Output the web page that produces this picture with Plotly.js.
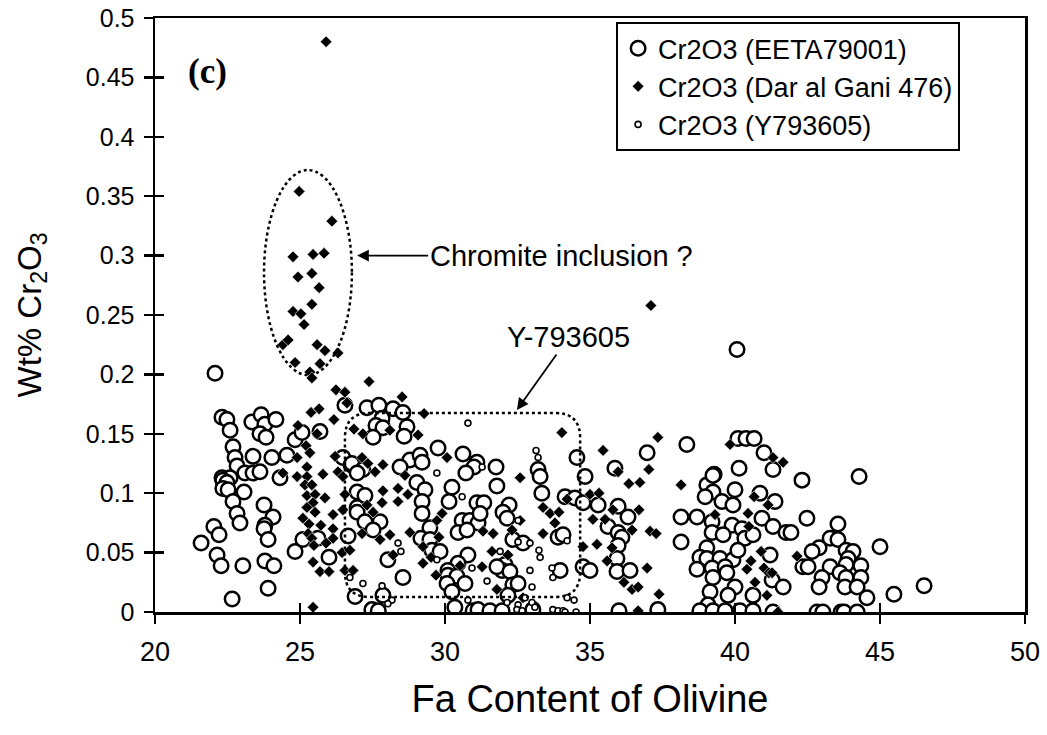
<!DOCTYPE html>
<html><head><meta charset="utf-8">
<script src="https://cdn.plot.ly/plotly-3.0.1.min.js"></script>
<style>html,body{margin:0;padding:0;background:#fff}#chart{width:1047px;height:735px}</style>
</head><body><div id="chart"></div>
<script>
// EETA79001 (large open circles)
const eetaX = [22.31,22.48,22.59,23.34,23.66,23.79,24.17,23.62,23.83,22.69,22.76,22.83,23.38,24.03,24.55,24.83,25.07,25.69,26.48,26.76,22.31,22.59,23.10,23.38,23.62,26.55,22.07,
22.34,22.48,22.34,22.52,23.07,22.69,22.83,22.93,23.76,24.07,23.79,23.76,23.90,22.03,22.21,21.59,22.14,22.28,23.03,23.79,24.10,23.90,22.66,24.31,24.83,25.10,25.62,26.0,26.66,26.90,26.97,
27.31,27.72,28.21,28.55,27.83,27.62,27.86,27.52,28.69,28.59,29.76,30.62,31.10,31.0,30.72,31.76,28.79,29.14,29.21,28.45,26.79,27.17,33.21,33.28,
26.97,29.03,29.31,30.24,31.79,33.34,26.97,27.24,29.21,30.14,31.10,31.34,29.21,32.21,32.0,32.14,30.59,30.86,31.14,31.21,26.97,27.24,27.76,29.48,30.45,30.76,27.52,29.17,29.48,32.34,32.69,33.90,34.07,28.03,29.55,29.83,30.79,30.45,30.10,32.07,31.97,31.79,32.24,30.10,30.41,30.69,28.55,30.07,30.24,32.34,32.52,32.17,27.86,33.97,27.48,30.34,30.97,31.14,31.55,31.97,33.03,27.7,
40.07,40.10,40.38,40.66,41.0,41.31,40.14,39.28,38.34,36.97,34.55,34.83,35.86,
34.14,34.48,34.76,35.28,35.97,36.31,35.62,35.97,36.10,35.97,35.93,35.93,36.38,34.76,35.0,38.14,38.69,38.14,39.03,39.24,40.0,39.24,38.97,39.55,39.93,39.21,39.90,39.21,39.59,40.24,40.34,40.62,40.93,41.31,39.03,38.79,39.03,39.48,39.93,40.10,38.69,39.21,39.66,39.72,39.24,40.0,39.76,40.62,39.14,41.21,41.28,39.07,38.79,39.24,39.66,40.17,40.62,41.31,37.34,36.0,40.86,
42.31,44.28,41.38,42.48,43.55,41.76,41.93,43.28,43.55,42.90,42.66,43.83,44.07,43.90,45.0,42.34,42.52,43.28,43.83,44.34,43.62,43.0,43.83,44.34,42.90,43.79,44.21,41.66,44.55,45.48,46.52,42.83,43.03,43.66,43.76,44.21];
const eetaY = [0.164,0.162,0.153,0.160,0.166,0.158,0.162,0.150,0.147,0.139,0.130,0.123,0.131,0.130,0.132,0.145,0.151,0.152,0.130,0.124,0.113,0.113,0.117,0.117,0.118,0.174,0.201,
0.111,0.109,0.104,0.103,0.101,0.093,0.083,0.075,0.090,0.080,0.073,0.070,0.061,0.072,0.065,0.058,0.048,0.039,0.039,0.043,0.039,0.020,0.011,0.113,0.051,0.061,0.062,0.046,0.064,0.013,0.088,
0.172,0.174,0.171,0.168,0.163,0.157,0.155,0.147,0.156,0.148,0.138,0.133,0.126,0.122,0.117,0.122,0.128,0.132,0.126,0.122,0.125,0.120,0.120,0.114,
0.117,0.109,0.103,0.105,0.106,0.100,0.101,0.098,0.093,0.093,0.092,0.092,0.083,0.090,0.084,0.079,0.077,0.077,0.075,0.083,0.084,0.076,0.076,0.071,0.067,0.069,0.069,0.062,0.061,0.061,0.058,0.063,0.065,0.044,0.052,0.051,0.048,0.041,0.035,0.040,0.035,0.038,0.034,0.031,0.030,0.024,0.029,0.024,0.017,0.023,0.024,0.014,0.014,0.035,0.002,0.004,0.001,0.002,0.001,0.001,0.002,0.001,
0.221,0.146,0.146,0.146,0.134,0.120,0.121,0.116,0.141,0.134,0.130,0.114,0.121,
0.097,0.096,0.092,0.090,0.089,0.080,0.072,0.067,0.063,0.056,0.045,0.034,0.035,0.038,0.035,0.080,0.080,0.059,0.107,0.101,0.103,0.115,0.097,0.093,0.090,0.076,0.073,0.067,0.065,0.070,0.062,0.065,0.079,0.072,0.054,0.046,0.045,0.045,0.044,0.052,0.036,0.037,0.038,0.033,0.029,0.021,0.014,0.014,0.017,0.048,0.027,0.006,0.001,0.001,0.001,0.001,0.001,0.0,0.002,0.001,0.100,
0.111,0.114,0.093,0.079,0.074,0.067,0.067,0.062,0.061,0.054,0.051,0.052,0.051,0.045,0.055,0.038,0.038,0.038,0.040,0.039,0.033,0.029,0.029,0.029,0.021,0.021,0.021,0.021,0.012,0.015,0.022,0.0,0.0,0.0,0.0,0.0];

// Dar al Gani 476 (filled diamonds)
const dagX = [25.9,37.1,
24.97,26.1,24.76,25.45,25.83,24.93,25.41,25.66,25.41,24.76,25.03,25.14,24.41,24.59,25.59,25.86,26.31,24.83,25.69,25.34,25.41,
26.24,26.55,26.62,25.38,25.66,26.17,26.86,24.93,25.59,25.21,25.34,24.90,25.24,26.21,24.41,24.90,25.24,25.79,26.31,26.48,
25.17,25.41,25.24,25.52,25.86,25.45,25.24,25.52,26.14,26.48,26.55,25.10,25.31,25.72,26.14,25.28,25.41,26.14,25.48,25.90,26.45,26.72,25.45,25.69,26.0,26.55,25.45,
27.38,28.52,29.28,27.17,28.10,29.07,34.03,30.07,27.14,27.34,27.86,27.59,28.62,32.59,
28.38,28.72,27.86,28.38,27.31,27.52,27.83,29.90,29.72,28.10,28.79,29.79,27.14,27.76,29.24,28.21,29.24,29.52,30.52,31.31,31.66,32.31,32.59,31.62,32.17,31.28,29.69,31.79,32.69,33.38,33.62,33.93,33.79,33.38,26.83,
35.45,37.34,37.03,35.97,39.83,41.31,
36.34,36.72,35.0,35.31,34.21,35.79,36.69,35.10,35.52,36.45,37.07,37.28,35.24,34.76,35.76,35.59,36.97,36.17,36.45,36.66,37.38,36.66,38.14,39.31,40.45,40.48,40.66,41.14,40.90,40.55,40.41,41.0,41.17,40.69,41.10,
41.66,42.14,41.28,41.48];
const dagY = [0.48,0.258,
0.354,0.329,0.299,0.301,0.302,0.282,0.285,0.273,0.259,0.253,0.251,0.242,0.225,0.229,0.225,0.220,0.218,0.210,0.209,0.202,0.197,
0.187,0.185,0.176,0.168,0.171,0.162,0.154,0.157,0.150,0.140,0.134,0.130,0.122,0.131,0.117,0.114,0.114,0.116,0.118,0.114,
0.107,0.107,0.098,0.099,0.096,0.092,0.088,0.084,0.082,0.086,0.099,0.079,0.074,0.073,0.070,0.066,0.062,0.062,0.056,0.058,0.050,0.052,0.042,0.034,0.034,0.035,0.004,
0.194,0.181,0.167,0.150,0.153,0.149,0.151,0.130,0.130,0.125,0.124,0.118,0.115,0.113,
0.104,0.099,0.102,0.093,0.090,0.084,0.092,0.083,0.077,0.065,0.067,0.063,0.066,0.061,0.055,0.048,0.041,0.046,0.039,0.068,0.066,0.069,0.077,0.051,0.048,0.038,0.031,0.019,0.012,0.088,0.083,0.084,0.075,0.066,0.035,
0.136,0.147,0.120,0.118,0.141,0.130,
0.108,0.109,0.099,0.100,0.095,0.086,0.086,0.078,0.078,0.069,0.068,0.066,0.057,0.055,0.054,0.043,0.037,0.025,0.019,0.021,0.015,0.001,0.107,0.082,0.083,0.072,0.097,0.090,0.051,0.043,0.036,0.037,0.033,0.025,0.014,
0.126,0.047,0.033,0.0];

// Y793605 (small open circles)
const yamX = [26.72,30.79,33.14,33.21,29.72,31.28,28.38,28.48,30.59,31.90,32.52,32.93,33.24,33.28,32.52,32.93,33.0,30.93,31.45,27.17,27.83,28.17,28.03,30.79,32.14,32.52,32.76,33.0,33.10,32.48,32.66,33.72,33.90,34.07,33.69,33.72,29.72,34.21,34.21,34.45,34.14,34.52];
const yamY = [0.029,0.159,0.136,0.130,0.117,0.122,0.058,0.051,0.097,0.051,0.059,0.058,0.052,0.046,0.077,0.035,0.021,0.037,0.026,0.024,0.022,0.010,0.007,0.010,0.008,0.006,0.012,0.008,0.004,0.002,0.001,0.002,0.001,0.001,0.037,0.029,0.044,0.060,0.012,0.010,0.0,0.0];

const seriesNames = ['Cr2O3 (EETA79001)','Cr2O3 (Dar al Gani 476)','Cr2O3 (Y793605)'];
const xTicks = [20,25,30,35,40,45,50];
const yTicks = [0,0.05,0.1,0.15,0.2,0.25,0.3,0.35,0.4,0.45,0.5];

const SANS = 'Liberation Sans, Arial, sans-serif';
const NARROW = 'Liberation Sans Narrow, Liberation Sans, Arial, sans-serif';

const traces = [
  {x:eetaX, y:eetaY, name:seriesNames[0], type:'scatter', mode:'markers', legendgroup:'a',
   marker:{symbol:'circle', size:14.5, color:'#ffffff', line:{color:'#000', width:2.5}}},
  {x:dagX, y:dagY, name:seriesNames[1], type:'scatter', mode:'markers', legendgroup:'b',
   marker:{symbol:'diamond', size:9, color:'#000', line:{color:'#fff', width:0.6}}},
  {x:yamX, y:yamY, name:seriesNames[2], type:'scatter', mode:'markers', legendgroup:'c',
   xaxis:'x2', yaxis:'y2',
   marker:{symbol:'circle', size:6, color:'#ffffff', line:{color:'#000', width:1.6}}}
];

// rounded rectangle (Y-793605 field)
const rx0=26.55, rx1=34.66, ry0=0.0126, ry1=0.1675, cx=0.86, cy=0.021;
const rrPath = `M ${rx0+cx},${ry1} L ${rx1-cx},${ry1} Q ${rx1},${ry1} ${rx1},${ry1-cy} L ${rx1},${ry0+cy} Q ${rx1},${ry0} ${rx1-cx},${ry0} L ${rx0+cx},${ry0} Q ${rx0},${ry0} ${rx0},${ry0+cy} L ${rx0},${ry1-cy} Q ${rx0},${ry1} ${rx0+cx},${ry1} Z`;

const layout = {
  width:1047, height:735,
  margin:{l:155, r:22, t:18, b:123},
  paper_bgcolor:'#fff', plot_bgcolor:'#fff',
  showlegend:true,
  legend:{x:0.53, y:0.993, xanchor:'left', yanchor:'top', bgcolor:'#fff', bordercolor:'#000', borderwidth:2,
    font:{family:SANS, size:27, color:'#000'}, tracegroupgap:0, traceorder:'normal', itemwidth:30},
  xaxis:{range:[20,50], tickvals:xTicks, ticks:'outside', ticklen:9, tickwidth:2.5, tickcolor:'#000',
    showline:true, linewidth:2.5, linecolor:'#000', mirror:true, showgrid:false, zeroline:false,
    ticklabelstandoff:5,
    tickfont:{family:NARROW, size:27, color:'#000'},
    title:{text:'Fa Content of Olivine', font:{family:NARROW, size:38, color:'#000'}, standoff:20}},
  yaxis:{range:[0,0.5], tickvals:yTicks, ticks:'outside', ticklen:9, tickwidth:2.5, tickcolor:'#000',
    showline:true, linewidth:2.5, linecolor:'#000', mirror:true, showgrid:false, zeroline:false,
    ticklabelstandoff:4,
    tickfont:{family:SANS, size:25, color:'#000'},
    title:{text:'Wt% Cr<sub>2</sub>O<sub>3</sub>', font:{family:SANS, size:33, color:'#000'}, standoff:35}},
  xaxis2:{overlaying:'x', anchor:'y2', side:'bottom', range:[20,50], tickvals:xTicks, ticks:'inside', ticklen:9, tickwidth:2.5,
    tickcolor:'#000', showticklabels:false, showline:false, showgrid:false, zeroline:false},
  yaxis2:{overlaying:'y', anchor:'x2', side:'left', range:[0,0.5], tickvals:yTicks, ticks:'inside', ticklen:9, tickwidth:2.5,
    tickcolor:'#000', showticklabels:false, showline:false, showgrid:false, zeroline:false},
  shapes:[
    {type:'circle', xref:'x', yref:'y', x0:23.76, x1:26.79, y0:0.1995, y1:0.372, line:{color:'#000', width:2.5, dash:'dot'}, layer:'above'},
    {type:'path', xref:'x', yref:'y', path:rrPath, line:{color:'#000', width:2.5, dash:'dot'}, layer:'above'}
  ],
  annotations:[
    {text:'<b>(c)</b>', x:21.8, y:0.455, xref:'x', yref:'y', showarrow:false, font:{family:'Liberation Serif, Times New Roman, serif', size:35, color:'#000'}},
    {text:'Chromite inclusion ?', x:26.97, y:0.300, xref:'x', yref:'y', ax:204, ay:0, showarrow:true, arrowhead:2, arrowsize:1.3, arrowwidth:1.8, arrowcolor:'#000', font:{family:SANS, size:29, color:'#000'}},
    {text:'Y-793605', x:32.48, y:0.170, xref:'x', yref:'y', ax:52, ay:-73, showarrow:true, arrowhead:2, arrowsize:1.3, arrowwidth:1.8, arrowcolor:'#000', font:{family:SANS, size:29, color:'#000'}}
  ]
};

Plotly.newPlot('chart', traces, layout, {displayModeBar:false, staticPlot:true});
</script></body></html>
